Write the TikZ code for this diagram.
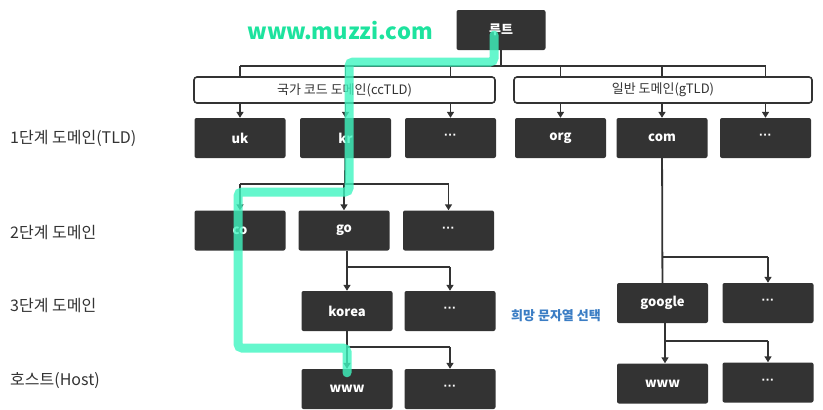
\documentclass[tikz,border=0pt]{standalone}
\usepackage{fontspec}
\setmainfont{Noto Sans CJK KR}
\newfontfamily\latinfont{Liberation Sans}
\usetikzlibrary{arrows.meta}
\definecolor{boxgray}{HTML}{333333}
\definecolor{mint}{HTML}{3FF5C0}
\definecolor{muzzi}{HTML}{1DE39E}
\definecolor{pickblue}{HTML}{3B7DC4}
\tikzset{
  dbox/.style={fill=boxgray,rounded corners=2pt,minimum width=91pt,minimum height=40pt,inner sep=0pt,
    text=white,font=\fontsize{13}{15}\selectfont\bfseries},
  wbox/.style={draw=boxgray,line width=1.6pt,fill=white,rounded corners=3pt,minimum height=26pt,inner sep=0pt,
    text=boxgray,font=\fontsize{13}{15}\selectfont},
  lvl/.style={anchor=west,inner sep=0pt,text=boxgray,font=\fontsize{16}{19}\selectfont},
  link/.style={draw=boxgray,line width=1.8pt},
  arr/.style={link,-{Triangle[length=6pt,width=7pt]}},
  hl/.style={draw=mint,opacity=.8,line width=9pt,rounded corners=4pt,line cap=round},
}
\newcommand{\more}{\raisebox{2pt}{\latinfont ···}}
\begin{document}
\begin{tikzpicture}[x=1pt,y=-1pt]
\useasboundingbox (0,0) rectangle (823,410);
\node[text=muzzi,font=\fontsize{22}{26}\selectfont\bfseries] (muzzi) at (340,31) {www.muzzi.com};
\node[dbox,minimum width=89pt] (root) at (501,30) {루트};
\node[wbox,minimum width=301pt] (cc) at (344.5,90) {국가 코드 도메인(ccTLD)};
\node[wbox,minimum width=298pt] (g) at (663,90) {일반 도메인(gTLD)};
% level labels
\node[lvl] (l1) at (10,138) {1단계 도메인(TLD)};
\node[lvl] (l2) at (10,233) {2단계 도메인};
\node[lvl] (l3) at (10,306) {3단계 도메인};
\node[lvl] (l4) at (10,381) {호스트(Host)};
% TLD
\node[dbox] (uk) at (240,138) {uk};
\node[dbox] (kr) at (345.5,138) {kr};
\node[dbox] (dots1) at (450.5,138) {\more};
\node[dbox] (org) at (560.5,138) {org};
\node[dbox] (com) at (662,138) {com};
\node[dbox] (dots2) at (765.5,138) {\more};
% second level
\node[dbox] (co) at (240,230.5) {co};
\node[dbox] (go) at (344,230.5) {go};
\node[dbox] (dots3) at (448.5,230.5) {\more};
% third level
\node[dbox] (korea) at (347,311) {korea};
\node[dbox] (dots4) at (450,311) {\more};
\node[dbox] (google) at (662.5,303) {google};
\node[dbox] (dots6) at (768,303) {\more};
% hosts
\node[dbox] (www) at (347,389) {www};
\node[dbox] (dots5) at (450,389) {\more};
\node[dbox] (www2) at (662.5,383.5) {www};
\node[dbox] (dots7) at (768,382.5) {\more};
\node[text=pickblue,font=\fontsize{13}{15}\selectfont\bfseries] (pick) at (556,316) {희망 문자열 선택};
% junctions
\coordinate (rj) at (501,66);
\coordinate (j2) at (345,184);
\coordinate (j3) at (347,267);
\coordinate (j4) at (347,347);
\coordinate (j5) at (662,257);
\coordinate (j6) at (665,341);
% root
\draw[link] (root) -- (rj);
\draw[link] (uk |- rj) -- (dots2 |- rj);
\foreach \n in {uk,kr,dots1,org,com,dots2}
  \draw[link] (\n |- rj) -- (\n |- cc.north);
\foreach \n in {uk,kr,dots1,org,com,dots2}
  \draw[arr] (\n |- cc.south) -- (\n.north);
% kr
\draw[link] (kr) -- (j2);
\draw[link] (co |- j2) -- (dots3 |- j2);
\foreach \n in {co,go,dots3}
  \draw[arr] (\n |- j2) -- (\n.north);
% go
\draw[link] (go.south -| korea) -- (j3) -- (dots4 |- j3);
\foreach \n in {korea,dots4}
  \draw[arr] (\n |- j3) -- (\n.north);
% korea
\draw[link] (korea) -- (j4) -- (dots5 |- j4);
\foreach \n in {www,dots5}
  \draw[arr] (\n |- j4) -- (\n.north);
% com
\draw[link] (com) -- (google);
\draw[link] (j5) -- (dots6 |- j5);
\draw[arr] (dots6 |- j5) -- (dots6.north);
% google
\draw[link] (google.south -| j6) -- (j6) -- (dots7 |- j6);
\draw[arr] (j6) -- (www2.north -| j6);
\draw[arr] (dots7 |- j6) -- (dots7.north);
% highlight
\draw[hl] ([xshift=-7pt,yshift=-5pt]root.center) |- (349,62) |- (238,192) |- (www |- 0,348) -- ([yshift=-4pt]www.north);
\end{tikzpicture}
\end{document}
